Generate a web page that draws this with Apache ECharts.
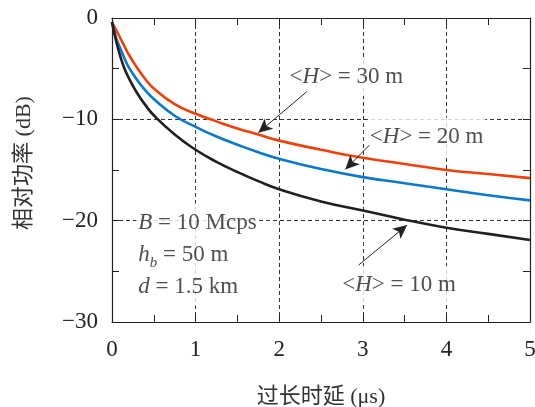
<!DOCTYPE html>
<html>
<head>
<meta charset="utf-8">
<script src="https://cdn.jsdelivr.net/npm/echarts@6/dist/echarts.min.js"></script>
<style>
  html, body { margin: 0; padding: 0; background: #fff; }
  #main { width: 535px; height: 407px; }
</style>
</head>
<body>
<div id="main"></div>
<script>
// excess delay (us) and relative power (dB)
var delay = [0, 0.05, 0.1, 0.15, 0.2, 0.3, 0.4, 0.5, 0.75, 1, 1.25, 1.5, 1.75, 2, 2.5, 3, 3.5, 4, 4.5, 5];
var power30 = [-0.4, -1.2, -2.0, -2.8, -3.6, -4.9, -6.05, -6.95, -8.5, -9.45, -10.2, -10.9, -11.5, -12.1, -13.0, -13.8, -14.4, -15.0, -15.4, -15.8];
var power20 = [-0.4, -2.0, -3.0, -4.0, -4.85, -6.1, -7.15, -8.0, -9.65, -10.75, -11.7, -12.5, -13.25, -13.9, -14.9, -15.7, -16.3, -16.9, -17.5, -18.0];
var power10 = [-0.4, -2.3, -3.8, -5.0, -5.9, -7.4, -8.6, -9.6, -11.5, -13.0, -14.2, -15.2, -16.1, -16.9, -18.1, -19.0, -19.9, -20.7, -21.3, -21.9];

var xTicks = [0, 1, 2, 3, 4, 5];
var yTicks = [-30, -20, -10, 0];

// arrows: [from, to] in data units
var arrows = [
  [[2.33, -7.27], [1.75, -11.32]],
  [[3.08, -12.54], [2.79, -14.94]],
  [[2.95, -24.38], [3.53, -20.43]]
];

// text anchors (left edge, vertical middle)
var notes = [
  { pos: [2.1, -5.82], text: '{n|<}{i|H}{n|> = 30 m}' },
  { pos: [3.06, -11.7], text: '{n|<}{i|H}{n|> = 20 m}' },
  { pos: [2.73, -26.36], text: '{n|<}{i|H}{n|> = 10 m}' },
  { pos: [0.29, -23.35], text: '{i|B}{n| = 10 Mcps}\n{i|h}{sub|b}{n| = 50 m}\n{i|d}{n| = 1.5 km}' }
];

function pairs(ys) {
  return delay.map(function (t, i) { return [t, ys[i]]; });
}

var serif = 'Liberation Serif, Noto Sans CJK SC, serif';
var ink = '#222';

var chart = echarts.init(document.getElementById('main'));

var baseX = {
  type: 'value', min: xTicks[0], max: xTicks[xTicks.length - 1], interval: 1,
  axisLine: { show: true, onZero: false, lineStyle: { color: ink, width: 1.2 } },
  axisTick: { show: true, inside: true, length: 7, lineStyle: { color: ink } },
  minorTick: { show: true, splitNumber: 2, length: 7, lineStyle: { color: ink } }
};
var baseY = {
  type: 'value', min: yTicks[0], max: yTicks[yTicks.length - 1], interval: 10,
  axisLine: { show: true, onZero: false, lineStyle: { color: ink, width: 1.2 } },
  axisTick: { show: true, inside: true, length: 7, lineStyle: { color: ink } },
  minorTick: { show: true, splitNumber: 2, length: 7, lineStyle: { color: ink } }
};

chart.setOption({
  animation: false,
  backgroundColor: '#fff',
  grid: { left: 112, top: 18, right: 5, bottom: 85, outerBoundsMode: 'none' },
  xAxis: [
    Object.assign({}, baseX, {
      position: 'bottom',
      name: '过长时延 (μs)', nameLocation: 'middle', nameGap: 64,
      nameTextStyle: { fontFamily: serif, fontSize: 22, color: '#333' },
      axisLabel: { margin: 16, fontFamily: serif, fontSize: 23, color: ink },
      splitLine: { show: true, lineStyle: { color: '#333', type: [4, 3], width: 1 } }
    }),
    Object.assign({}, baseX, {
      position: 'top', axisLabel: { show: false }, splitLine: { show: false }
    })
  ],
  yAxis: [
    Object.assign({}, baseY, {
      position: 'left',
      name: '相对功率 (dB)', nameLocation: 'middle', nameGap: 77, nameRotate: 90,
      nameTextStyle: { fontFamily: serif, fontSize: 22, color: '#333', padding: [0, 0, 0, 14] },
      axisLabel: {
        margin: 14, fontFamily: serif, fontSize: 23, color: ink,
        formatter: function (v) { return v < 0 ? '\u2212' + Math.abs(v) : String(v); }
      },
      splitLine: { show: true, lineStyle: { color: '#333', type: [4, 3], width: 1 } }
    }),
    Object.assign({}, baseY, {
      position: 'right', axisLabel: { show: false }, splitLine: { show: false }
    })
  ],
  series: [
    {
      name: '30 m', type: 'line', data: pairs(power30), smooth: 0.5,
      showSymbol: false, lineStyle: { color: '#F0400A', width: 2.6 }, z: 3
    },
    {
      name: '20 m', type: 'line', data: pairs(power20), smooth: 0.5,
      showSymbol: false, lineStyle: { color: '#0A78CC', width: 2.6 }, z: 3
    },
    {
      name: '10 m', type: 'line', data: pairs(power10), smooth: 0.5,
      showSymbol: false, lineStyle: { color: '#231F20', width: 2.6 }, z: 3
    },
    {
      name: 'notes', type: 'scatter', symbolSize: 0, z: 4, silent: true,
      data: notes.map(function (n) {
        return { value: n.pos, label: { formatter: n.text } };
      }),
      label: {
        show: true, position: 'right', distance: 0,
        backgroundColor: '#fff', padding: [3, 2, 3, 2],
        lineHeight: 32,
        rich: {
          n: { fontFamily: serif, fontSize: 23, color: ink, lineHeight: 32 },
          i: { fontFamily: serif, fontSize: 23, fontStyle: 'italic', color: ink, lineHeight: 32 },
          sub: { fontFamily: serif, fontSize: 15, fontStyle: 'italic', color: ink, lineHeight: 32, verticalAlign: 'bottom' }
        }
      },
      markLine: {
        silent: true, symbol: ['none', 'arrow'], symbolSize: [10, 14],
        label: { show: false },
        lineStyle: { color: ink, width: 1, type: 'solid' },
        data: arrows.map(function (a) {
          return [{ coord: a[0] }, { coord: a[1] }];
        })
      }
    }
  ]
});
</script>
</body>
</html>
